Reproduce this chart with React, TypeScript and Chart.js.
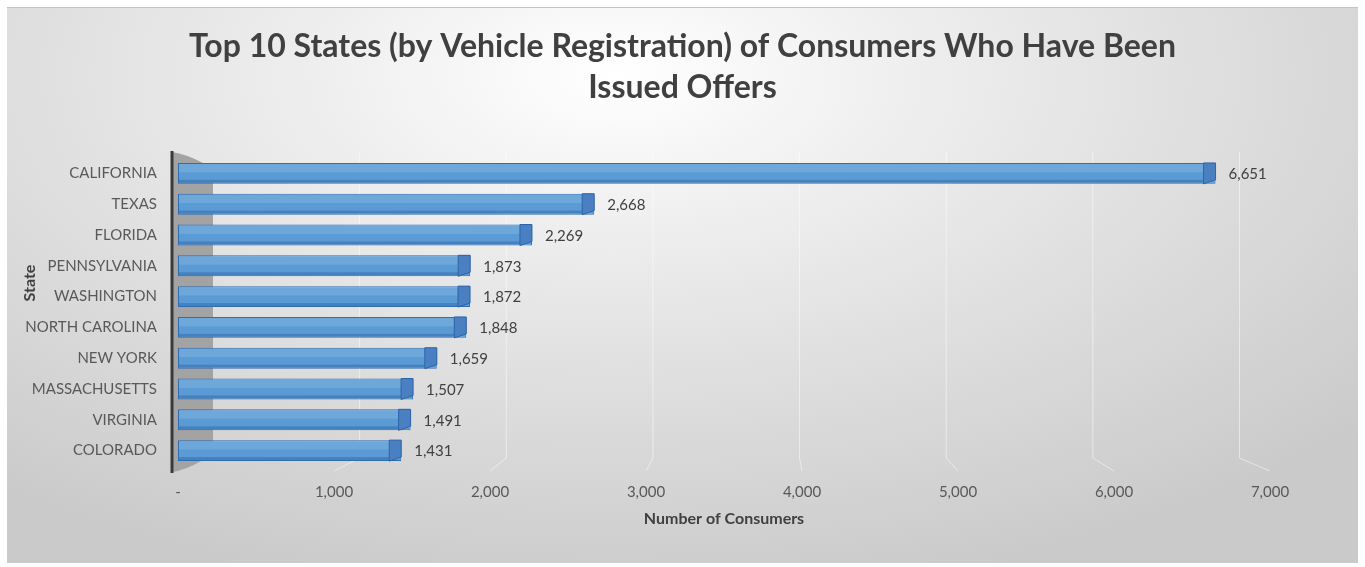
import React, { useEffect, useRef } from "react";
import { Chart, registerables } from "chart.js";

Chart.register(...registerables);

const titleLines = [
  "Top 10 States (by Vehicle Registration) of Consumers Who Have Been",
  "Issued Offers",
];
const states = [
  "CALIFORNIA",
  "TEXAS",
  "FLORIDA",
  "PENNSYLVANIA",
  "WASHINGTON",
  "NORTH CAROLINA",
  "NEW YORK",
  "MASSACHUSETTS",
  "VIRGINIA",
  "COLORADO",
];
const consumers = [6651, 2668, 2269, 1873, 1872, 1848, 1659, 1507, 1491, 1431];
const xTickValues = [0, 1000, 2000, 3000, 4000, 5000, 6000, 7000];
const xAxisTitle = "Number of Consumers";
const yAxisTitle = "State";

const FONT = "Lato, 'Open Sans', sans-serif";
const fmt = (v: number) => (v === 0 ? "-" : v.toLocaleString("en-US"));

const decor = {
  id: "decor",
  beforeDatasetsDraw(chart: any) {
    const { ctx, chartArea } = chart;
    const { left, top, bottom } = chartArea;
    const xs = chart.scales.x;
    const ax = left - 6;
    const wx = left + 35;
    ctx.save();
    // back gridlines with perspective
    ctx.strokeStyle = "rgba(255,255,255,0.5)";
    ctx.lineWidth = 1;
    xTickValues.forEach((v) => {
      if (v === 0) return;
      const front = xs.getPixelForValue(v);
      const back = wx + (front - left) * 0.94;
      ctx.beginPath();
      ctx.moveTo(back, top - 6);
      ctx.lineTo(back, bottom - 8);
      ctx.lineTo(front, bottom + 5);
      ctx.stroke();
    });
    // side wall
    ctx.fillStyle = "#a3a3a3";
    ctx.beginPath();
    ctx.moveTo(ax, top - 6);
    ctx.quadraticCurveTo(ax + 14, top - 4, wx - 10, top + 5);
    ctx.lineTo(wx, top + 5);
    ctx.lineTo(wx, bottom - 6);
    ctx.lineTo(wx - 10, bottom - 6);
    ctx.quadraticCurveTo(ax + 14, bottom + 4, ax, bottom + 6);
    ctx.closePath();
    ctx.fill();
    // axis line
    ctx.strokeStyle = "#3a3a3a";
    ctx.lineWidth = 3;
    ctx.beginPath();
    ctx.moveTo(ax, top - 7);
    ctx.lineTo(ax, bottom + 7);
    ctx.stroke();
    ctx.restore();
  },
  afterDatasetsDraw(chart: any) {
    const { ctx, chartArea } = chart;
    const meta = chart.getDatasetMeta(0);
    const data = chart.data.datasets[0].data as number[];
    ctx.save();
    meta.data.forEach((el: any, i: number) => {
      const { x, y, base, height } = el.getProps(["x", "y", "base", "height"], true);
      const t = y - height / 2;
      const b = y + height / 2;
      const cap = 12;
      // top light band
      ctx.fillStyle = "rgba(255,255,255,0.12)";
      ctx.fillRect(base + 1, t + 1, x - cap - base - 1, height * 0.4);
      // bottom dark band
      ctx.fillStyle = "rgba(20,70,140,0.3)";
      ctx.fillRect(base + 1, b - 4, x - cap - base - 1, 3);
      // end cap
      ctx.fillStyle = "#4a80c2";
      ctx.strokeStyle = "#2c64a8";
      ctx.lineWidth = 1;
      ctx.beginPath();
      ctx.moveTo(x - cap, t);
      ctx.lineTo(x, t);
      ctx.lineTo(x, b - 4);
      ctx.lineTo(x - cap, b);
      ctx.closePath();
      ctx.fill();
      ctx.stroke();
      // value label
      ctx.fillStyle = "#404040";
      ctx.font = `15px ${FONT}`;
      ctx.textAlign = "left";
      ctx.textBaseline = "middle";
      ctx.fillText(fmt(data[i]), x + 13, y + 1);
    });
    // y axis title
    ctx.translate(30, (chartArea.top + chartArea.bottom) / 2 - 29);
    ctx.rotate(-Math.PI / 2);
    ctx.font = `bold 16px ${FONT}`;
    ctx.fillStyle = "#404040";
    ctx.textAlign = "center";
    ctx.textBaseline = "middle";
    ctx.fillText(yAxisTitle, 0, 0);
    ctx.restore();
  },
};

export default function App() {
  const ref = useRef<HTMLCanvasElement>(null);
  useEffect(() => {
    document.body.style.margin = "0";
    const chart = new Chart(ref.current as HTMLCanvasElement, {
      type: "bar",
      data: {
        labels: states,
        datasets: [
          {
            data: consumers,
            backgroundColor: "#5b9bd5",
            borderColor: "#2e6db4",
            borderWidth: 1,
            borderSkipped: false,
            barPercentage: 0.68,
            categoryPercentage: 1,
          },
        ],
      },
      options: {
        indexAxis: "y",
        responsive: false,
        animation: false,
        devicePixelRatio: 1,
        layout: { padding: { left: 0, right: 0, top: 0, bottom: 31 } },
        plugins: {
          legend: { display: false },
          tooltip: { enabled: false },
          title: {
            display: true,
            text: titleLines,
            color: "#404040",
            font: { family: FONT, size: 32, weight: "bold", lineHeight: 41 / 32 },
            padding: { top: 26, bottom: 50 },
          },
        },
        scales: {
          x: {
            min: 0,
            max: 7000,
            afterBuildTicks: (s: any) => {
              s.ticks = xTickValues.map((v) => ({ value: v }));
            },
            afterFit: (s: any) => {
              s.height = 70;
            },
            ticks: {
              callback: (v: any) => fmt(Number(v)),
              color: "#595959",
              font: { family: FONT, size: 15 },
              padding: 17,
              maxRotation: 0,
            },
            grid: { display: false, drawTicks: false },
            border: { display: false },
            title: {
              display: true,
              text: xAxisTitle,
              color: "#404040",
              font: { family: FONT, size: 16, weight: "bold" },
              padding: { top: 0, bottom: 8 },
            },
          },
          y: {
            afterFit: (s: any) => {
              s.width = 178;
            },
            ticks: {
              color: "#595959",
              font: { family: FONT, size: 15 },
              padding: 21,
            },
            grid: { display: false, drawTicks: false },
            border: { display: false },
          },
          yRightSpace: {
            type: "category",
            axis: "y",
            position: "right",
            labels: [""],
            afterFit: (s: any) => {
              s.width = 95;
            },
            ticks: { display: false },
            grid: { display: false, drawTicks: false },
            border: { display: false },
          },
        },
      },
      plugins: [decor],
    } as any);
    return () => chart.destroy();
  }, []);

  return (
    <div style={{ position: "relative", width: 1365, height: 567, background: "#ffffff" }}>
      <div
        style={{
          position: "absolute",
          left: 7,
          top: 7,
          width: 1351,
          height: 556,
          borderTop: "1px solid #c4c4c4",
          boxSizing: "border-box",
          background:
            "radial-gradient(ellipse 75% 95% at 45% 12%, #ffffff 0%, #eeeeee 30%, #dedede 60%, #cacaca 100%)",
        }}
      />
      <canvas
        ref={ref}
        width={1365}
        height={567}
        style={{ position: "absolute", left: 0, top: 0, width: 1365, height: 567 }}
      />
    </div>
  );
}
